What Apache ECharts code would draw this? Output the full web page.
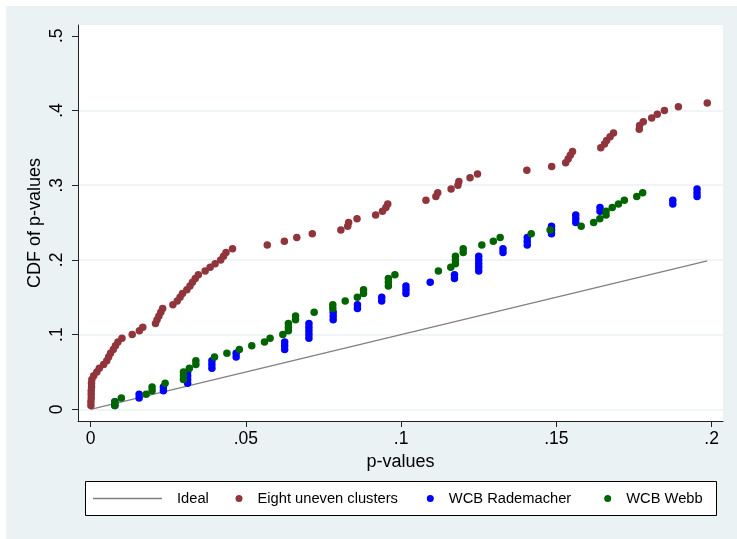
<!DOCTYPE html>
<html>
<head>
<meta charset="utf-8">
<title>CDF of p-values</title>
<script src="https://cdn.jsdelivr.net/npm/echarts@6/dist/echarts.min.js"></script>
<style>html,body{margin:0;padding:0;background:#fff}</style>
</head>
<body>
<div id="main" style="width:737px;height:539px;"></div>
<script>
// tick positions and their Stata-style labels
const xTicks = [0, 0.05, 0.1, 0.15, 0.2];
const xTickLabels = ['0', '.05', '.1', '.15', '.2'];
const yTicks = [0, 0.1, 0.2, 0.3, 0.4, 0.5];
const yTickLabels = ['0', '.1', '.2', '.3', '.4', '.5'];

// [p-value, cdf]
const ideal = [[0, 0], [0.1986, 0.1986]];

const eightUneven = [
  [0.0001, 0.005], [0.0001, 0.01], [0.0002, 0.015], [0.0002, 0.02], [0.0002, 0.025],
  [0.0003, 0.03], [0.0003, 0.035], [0.0004, 0.04], [0.0010, 0.045], [0.0020, 0.05],
  [0.0028, 0.055], [0.0042, 0.06], [0.0052, 0.065], [0.0058, 0.07], [0.0064, 0.075],
  [0.0073, 0.08], [0.0080, 0.085], [0.0088, 0.09], [0.0101, 0.095], [0.0134, 0.1],
  [0.0157, 0.105], [0.0168, 0.11], [0.0209, 0.115], [0.0214, 0.12], [0.0220, 0.125],
  [0.0226, 0.13], [0.0232, 0.135], [0.0265, 0.14], [0.0279, 0.145], [0.0288, 0.15],
  [0.0296, 0.155], [0.0310, 0.16], [0.0320, 0.165], [0.0328, 0.17], [0.0337, 0.175],
  [0.0347, 0.18], [0.0369, 0.185], [0.0385, 0.19], [0.0401, 0.195], [0.0419, 0.2],
  [0.0428, 0.205], [0.0436, 0.21], [0.0457, 0.215], [0.0569, 0.22], [0.0624, 0.225],
  [0.0664, 0.23], [0.0714, 0.235], [0.0806, 0.24], [0.0828, 0.245], [0.0831, 0.25],
  [0.0858, 0.255], [0.0918, 0.26], [0.0940, 0.265], [0.0951, 0.27], [0.0957, 0.275],
  [0.1080, 0.28], [0.1112, 0.285], [0.1118, 0.29], [0.1161, 0.295], [0.1183, 0.3],
  [0.1186, 0.305], [0.1222, 0.31], [0.1246, 0.315], [0.1405, 0.32], [0.1485, 0.325],
  [0.1530, 0.33], [0.1538, 0.335], [0.1545, 0.34], [0.1552, 0.345], [0.1643, 0.35],
  [0.1655, 0.355], [0.1662, 0.36], [0.1673, 0.365], [0.1684, 0.37], [0.1767, 0.375],
  [0.1768, 0.38], [0.1780, 0.385], [0.1807, 0.39], [0.1825, 0.395], [0.1848, 0.4],
  [0.1893, 0.405], [0.1986, 0.41]
];

const wcbRademacher = [
  [0.0078125, 0.005], [0.0078125, 0.01],
  [0.015625, 0.015], [0.015625, 0.02],
  [0.0234375, 0.025], [0.0234375, 0.03],
  [0.03125, 0.035], [0.03125, 0.04], [0.03125, 0.045], [0.03125, 0.05],
  [0.0390625, 0.055], [0.0390625, 0.06], [0.0390625, 0.065],
  [0.046875, 0.07], [0.046875, 0.075],
  [0.0625, 0.08], [0.0625, 0.085], [0.0625, 0.09],
  [0.0703125, 0.095], [0.0703125, 0.1], [0.0703125, 0.105], [0.0703125, 0.11], [0.0703125, 0.115],
  [0.078125, 0.12], [0.078125, 0.125], [0.078125, 0.13],
  [0.0859375, 0.135], [0.0859375, 0.14],
  [0.09375, 0.145], [0.09375, 0.15],
  [0.1015625, 0.155], [0.1015625, 0.16], [0.1015625, 0.165],
  [0.109375, 0.17],
  [0.1171875, 0.175], [0.1171875, 0.18],
  [0.125, 0.185], [0.125, 0.19], [0.125, 0.195], [0.125, 0.2], [0.125, 0.205],
  [0.1328125, 0.21], [0.1328125, 0.215],
  [0.140625, 0.22], [0.140625, 0.225], [0.140625, 0.23],
  [0.1484375, 0.235], [0.1484375, 0.24], [0.1484375, 0.245],
  [0.15625, 0.25], [0.15625, 0.255], [0.15625, 0.26],
  [0.1640625, 0.265], [0.1640625, 0.27],
  [0.1875, 0.275], [0.1875, 0.28],
  [0.1953125, 0.285], [0.1953125, 0.29], [0.1953125, 0.295]
];

const wcbWebb = [
  [0.0078, 0.005], [0.0078, 0.01], [0.0099, 0.015], [0.0179, 0.02],
  [0.0198, 0.025], [0.0198, 0.03], [0.0240, 0.035],
  [0.0299, 0.04], [0.0299, 0.045], [0.0299, 0.05], [0.0318, 0.055],
  [0.0339, 0.06], [0.0339, 0.065], [0.0399, 0.07], [0.0439, 0.075],
  [0.0479, 0.08], [0.0519, 0.085], [0.0560, 0.09], [0.0578, 0.095],
  [0.0619, 0.1], [0.0637, 0.105], [0.0637, 0.11], [0.0637, 0.115],
  [0.0660, 0.12], [0.0660, 0.125], [0.0720, 0.13], [0.0780, 0.135],
  [0.0780, 0.14], [0.0820, 0.145], [0.0859, 0.15], [0.0879, 0.155],
  [0.0879, 0.16], [0.0959, 0.165], [0.0959, 0.17], [0.0959, 0.175],
  [0.0980, 0.18], [0.1120, 0.185], [0.1160, 0.19], [0.1175, 0.195],
  [0.1175, 0.2], [0.1175, 0.205], [0.1200, 0.21], [0.1200, 0.215],
  [0.1260, 0.22], [0.1297, 0.225], [0.1319, 0.23], [0.1419, 0.235],
  [0.1480, 0.24], [0.1580, 0.245], [0.1620, 0.25], [0.1640, 0.255],
  [0.1660, 0.26], [0.1660, 0.265], [0.1680, 0.27], [0.1700, 0.275],
  [0.1719, 0.28], [0.1759, 0.285], [0.1778, 0.29]
];

const font = '"Liberation Sans", Arial, Helvetica, sans-serif';
const frameColor = '#EAF2F3';

function tickLabel(values, labels) {
  return function (v) {
    for (let i = 0; i < values.length; i++) {
      if (Math.abs(values[i] - v) < 1e-9) return labels[i];
    }
    return '';
  };
}

function legendItem(name, left, icon, w, h) {
  return {
    data: [{ name: name, icon: icon }],
    left: left,
    top: 491,
    padding: 0,
    itemWidth: w,
    itemHeight: h,
    selectedMode: false,
    textStyle: { fontSize: 14.7, color: '#000', fontFamily: font, padding: [0, 0, 0, 10] }
  };
}

const myChart = echarts.init(document.getElementById('main'));

const options = {
  animation: false,
  backgroundColor: frameColor,
  graphic: [
    { type: 'rect', shape: { x: 0, y: 0, width: 737, height: 6 }, style: { fill: '#fff' }, z: 0 },
    { type: 'rect', shape: { x: 0, y: 0, width: 6, height: 539 }, style: { fill: '#fff' }, z: 0 },
    { type: 'rect', shape: { x: 85.5, y: 481.5, width: 631, height: 34 },
      style: { fill: '#fff', stroke: '#000', lineWidth: 1 }, z: 3 }
  ],
  grid: {
    left: 78, top: 25, width: 645, height: 396,
    show: true, backgroundColor: '#fff', borderWidth: 0
  },
  xAxis: {
    type: 'value',
    min: -0.00406,
    max: 0.20367,
    name: 'p-values',
    nameLocation: 'middle',
    nameGap: 28,
    nameTextStyle: { fontSize: 18, color: '#000', fontFamily: font },
    axisLine: { onZero: false, lineStyle: { color: '#222', width: 1 } },
    axisTick: { customValues: xTicks, length: 6, lineStyle: { color: '#222' } },
    axisLabel: {
      customValues: xTicks, margin: 9, fontSize: 17.5, color: '#000', fontFamily: font,
      formatter: tickLabel(xTicks, xTickLabels)
    },
    splitLine: { show: false }
  },
  yAxis: {
    type: 'value',
    min: -0.01566,
    max: 0.51446,
    name: 'CDF of p-values',
    nameLocation: 'middle',
    nameGap: 34,
    nameMoveOverlap: false,
    nameRotate: 90,
    nameTextStyle: { fontSize: 18, color: '#000', fontFamily: font },
    axisLine: { show: true, onZero: false, lineStyle: { color: '#222', width: 1 } },
    axisTick: { show: true, customValues: yTicks, length: 6, lineStyle: { color: '#222' } },
    axisLabel: {
      customValues: yTicks, rotate: 90, margin: 12, fontSize: 17.5, color: '#000', fontFamily: font,
      formatter: tickLabel(yTicks, yTickLabels)
    },
    splitLine: { show: true, showMaxLine: false, lineStyle: { color: frameColor, width: 1.5 } }
  },
  legend: [
    legendItem('Ideal', 93, 'rect', 69, 1.3),
    legendItem('Eight uneven clusters', 235.5, 'circle', 7, 7),
    legendItem('WCB Rademacher', 426.8, 'circle', 7, 7),
    legendItem('WCB Webb', 604.2, 'circle', 7, 7)
  ],
  series: [
    {
      name: 'Ideal', type: 'line', data: ideal, symbol: 'none', showSymbol: false,
      lineStyle: { color: '#808080', width: 1.3 }, itemStyle: { color: '#808080' }, z: 2
    },
    {
      name: 'Eight uneven clusters', type: 'scatter', data: eightUneven, symbolSize: 7.5,
      itemStyle: { color: '#90353B', opacity: 1 }, z: 3
    },
    {
      name: 'WCB Rademacher', type: 'scatter', data: wcbRademacher, symbolSize: 7.5,
      itemStyle: { color: '#0000FF', opacity: 1 }, z: 4
    },
    {
      name: 'WCB Webb', type: 'scatter', data: wcbWebb, symbolSize: 7.5,
      itemStyle: { color: '#006400', opacity: 1 }, z: 5
    }
  ]
};

myChart.setOption(options);
</script>
</body>
</html>
